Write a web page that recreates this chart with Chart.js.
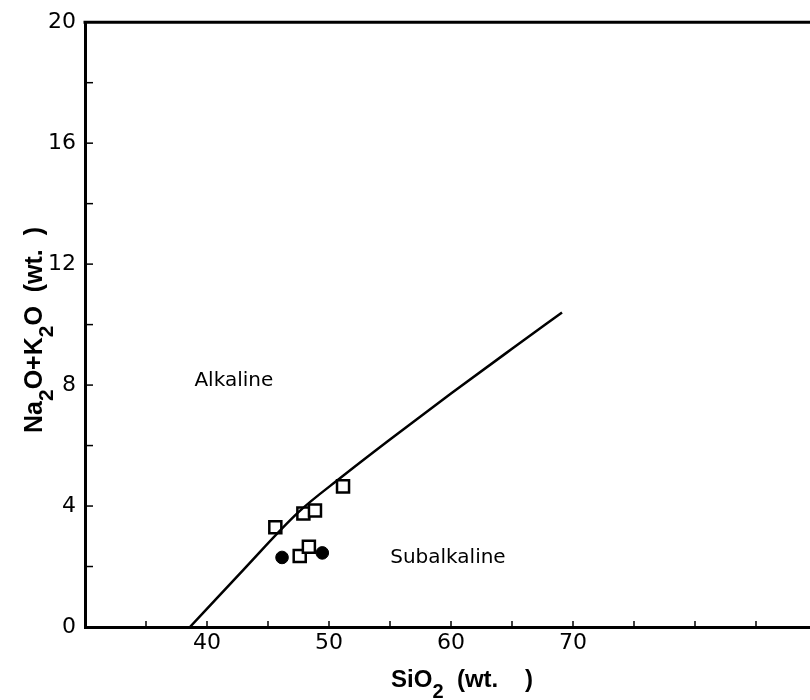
<!DOCTYPE html>
<html>
<head>
<meta charset="utf-8">
<script src="https://cdn.jsdelivr.net/npm/chart.js@4"></script>
<style>
  body { margin: 0; background: #fff; overflow: hidden; }
  #wrap { width: 830px; height: 700px; }
</style>
</head>
<body>
<div id="wrap"><canvas id="tas" width="830" height="700"></canvas></div>
<script>
// boundary line alkaline / subalkaline
const lineSi = [38.6, 43.0, 47.5, 51.0, 55.0, 60.0, 65.0, 69.1];
const lineTot = [0, 1.9, 3.8, 4.95, 6.2, 7.72, 9.2, 10.4];

// open squares
const squareSi = [45.6, 47.9, 48.85, 51.15, 47.6, 48.35];
const squareTot = [3.3, 3.75, 3.85, 4.65, 2.35, 2.65];

// filled circles
const circleSi = [46.15, 49.45];
const circleTot = [2.3, 2.45];

// axis ticks
const xTickLabels = [40, 50, 60, 70];
const yTickLabels = [0, 4, 8, 12, 16, 20];

const regionNames = ['Alkaline', 'Subalkaline'];
const regionSi = [42.2, 59.75];
const regionTot = [8.15, 2.3];

function toPoints(xs, ys) {
  return xs.map((x, i) => ({ x: x, y: ys[i] }));
}

// draws a string made of [text, isSubscript] parts, centred on x,y
function drawParts(ctx, parts, x, y, size) {
  const big = 'bold ' + size + 'px "Liberation Sans", Arial, sans-serif';
  const small = 'bold ' + Math.round(size * 0.85) + 'px "Liberation Sans", Arial, sans-serif';
  let total = 0;
  parts.forEach(p => {
    ctx.font = p[1] ? small : big;
    total += ctx.measureText(p[0]).width;
  });
  let cx = x - total / 2;
  ctx.textBaseline = 'middle';
  ctx.textAlign = 'left';
  parts.forEach(p => {
    ctx.font = p[1] ? small : big;
    ctx.fillText(p[0], cx, p[1] ? y + size * 0.5 : y);
    cx += ctx.measureText(p[0]).width;
  });
}

const decor = {
  id: 'decor',
  afterDraw(chart) {
    const ctx = chart.ctx;
    const a = chart.chartArea;
    const xs = chart.scales.x;
    const ys = chart.scales.y;
    ctx.save();
    ctx.strokeStyle = '#000';
    ctx.fillStyle = '#000';

    // top frame line
    ctx.lineWidth = 3;
    ctx.beginPath();
    ctx.moveTo(a.left - 1.5, a.top);
    ctx.lineTo(a.right, a.top);
    ctx.stroke();

    // inward tick marks
    ctx.lineWidth = 1.5;
    xs.ticks.forEach(t => {
      if (t.value <= xs.min || t.value >= xs.max) return;
      const px = xs.getPixelForValue(t.value);
      ctx.beginPath();
      ctx.moveTo(px, a.bottom);
      ctx.lineTo(px, a.bottom - 6);
      ctx.stroke();
    });
    ys.ticks.forEach(t => {
      if (t.value <= ys.min || t.value >= ys.max) return;
      const py = ys.getPixelForValue(t.value);
      ctx.beginPath();
      ctx.moveTo(a.left, py);
      ctx.lineTo(a.left + 8, py);
      ctx.stroke();
    });

    // region names
    ctx.font = '20px "DejaVu Sans", sans-serif';
    ctx.textAlign = 'center';
    ctx.textBaseline = 'middle';
    regionNames.forEach((n, i) => {
      ctx.fillText(n, xs.getPixelForValue(regionSi[i]), ys.getPixelForValue(regionTot[i]));
    });

    // axis titles with subscripts
    drawParts(ctx, [['SiO', false], ['2', true], ['  (wt.    )', false]], 462, 680, 24);
    ctx.translate(35, 330);
    ctx.rotate(-Math.PI / 2);
    drawParts(ctx, [['Na', false], ['2', true], ['O+K', false], ['2', true], ['O  (wt.  )', false]], 0, 0, 25);
    ctx.restore();
  }
};

new Chart(document.getElementById('tas'), {
  type: 'scatter',
  data: {
    datasets: [
      {
        label: 'boundary',
        data: toPoints(lineSi, lineTot),
        showLine: true,
        borderColor: '#000',
        borderWidth: 2.5,
        pointRadius: 0,
        cubicInterpolationMode: 'monotone'
      },
      {
        label: 'squares',
        data: toPoints(squareSi, squareTot),
        pointStyle: 'rect',
        pointRadius: 8.5,
        backgroundColor: '#fff',
        borderColor: '#000',
        borderWidth: 2.5
      },
      {
        label: 'circles',
        data: toPoints(circleSi, circleTot),
        pointStyle: 'circle',
        pointRadius: 6.3,
        backgroundColor: '#000',
        borderColor: '#000',
        borderWidth: 1
      }
    ]
  },
  options: {
    responsive: false,
    animation: false,
    layout: { padding: { top: 22, right: 13, left: 0, bottom: 0 } },
    plugins: {
      legend: { display: false },
      tooltip: { enabled: false }
    },
    scales: {
      x: {
        min: 30,
        max: 90,
        afterFit: function (scale) { scale.height = 73; },
        grid: { display: false, drawTicks: false },
        border: { display: true, color: '#000', width: 3 },
        ticks: {
          stepSize: 5,
          padding: 3,
          color: '#000',
          maxRotation: 0,
          autoSkip: false,
          font: { family: '"DejaVu Sans", sans-serif', size: 22 },
          callback: v => xTickLabels.includes(v) ? String(v) : ''
        }
      },
      y: {
        min: 0,
        max: 20,
        afterFit: function (scale) { scale.width = 85; },
        grid: { display: false, drawTicks: false },
        border: { display: true, color: '#000', width: 3 },
        ticks: {
          stepSize: 2,
          padding: 9,
          color: '#000',
          autoSkip: false,
          font: { family: '"DejaVu Sans", sans-serif', size: 22 },
          callback: v => yTickLabels.includes(v) ? String(v) : ''
        }
      }
    }
  },
  plugins: [decor]
});
</script>
</body>
</html>
